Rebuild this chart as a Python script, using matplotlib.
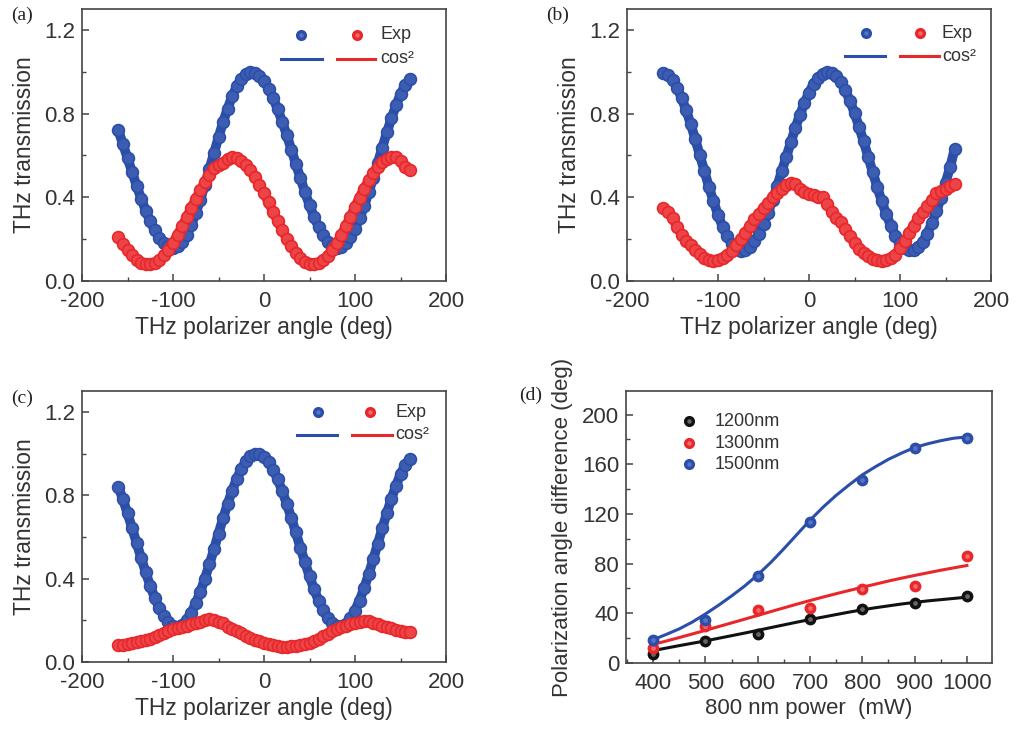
import numpy as np
import matplotlib.pyplot as plt
from matplotlib.ticker import MultipleLocator

plt.rcParams['font.family'] = ['Liberation Sans', 'DejaVu Sans']
plt.rcParams['axes.unicode_minus'] = False

# ---- THz transmission vs polarizer angle (panels a-c) ----
angle = np.arange(-160, 161, 5)

a_blue = [0.720, 0.653, 0.588, 0.521, 0.456, 0.394, 0.336, 0.285, 0.242, 0.207, 0.181, 0.165, 0.160,
          0.167, 0.188, 0.221, 0.267, 0.324, 0.388, 0.459, 0.535, 0.611, 0.686, 0.759, 0.824, 0.882,
          0.930, 0.967, 0.990, 1.000,
          0.996, 0.982, 0.955, 0.920, 0.875, 0.821, 0.762, 0.698, 0.628, 0.560, 0.492, 0.425, 0.363,
          0.306, 0.258, 0.218, 0.188, 0.168, 0.160,
          0.164, 0.181, 0.209, 0.249, 0.299, 0.357, 0.423, 0.493, 0.565, 0.638, 0.710, 0.777, 0.839,
          0.892, 0.936, 0.965]
a_red = [0.210, 0.176, 0.147, 0.122, 0.102, 0.088, 0.081, 0.081, 0.087, 0.102, 0.123, 0.150, 0.183,
         0.220, 0.262, 0.304, 0.348, 0.392, 0.434, 0.473, 0.508, 0.540, 0.556, 0.566, 0.585, 0.595,
         0.586, 0.574, 0.555, 0.529,
         0.497, 0.460, 0.419, 0.376, 0.330, 0.286, 0.243, 0.202, 0.166, 0.135, 0.111, 0.093, 0.083,
         0.080, 0.086, 0.099, 0.121, 0.148, 0.182,
         0.221, 0.263, 0.307, 0.354, 0.399, 0.442, 0.481, 0.515, 0.545, 0.567, 0.582, 0.592, 0.592,
         0.575, 0.545, 0.530]

b_blue = [0.993, 0.986, 0.961, 0.924, 0.875, 0.816, 0.750, 0.678, 0.602, 0.526, 0.451, 0.381, 0.316,
          0.260, 0.213, 0.177, 0.155, 0.145, 0.149, 0.164, 0.190, 0.227, 0.272, 0.327, 0.387, 0.453,
          0.524, 0.593, 0.662, 0.731,
          0.794, 0.851, 0.900, 0.941, 0.972, 0.991, 1.000, 0.996, 0.979, 0.951, 0.911, 0.861, 0.803,
          0.737, 0.667, 0.595, 0.520, 0.449, 0.380,
          0.318, 0.263, 0.216, 0.181, 0.157, 0.146, 0.147, 0.161, 0.188, 0.227, 0.276, 0.333, 0.399,
          0.469, 0.543, 0.630]
b_red = [0.350, 0.330, 0.300, 0.260, 0.220, 0.190, 0.170, 0.150, 0.130, 0.110, 0.100, 0.095, 0.100,
         0.110, 0.125, 0.145, 0.170, 0.200, 0.230, 0.265, 0.295, 0.320, 0.350, 0.375, 0.400, 0.420,
         0.440, 0.460, 0.470, 0.465,
         0.440, 0.425, 0.415, 0.410, 0.400, 0.400, 0.370, 0.330, 0.300, 0.280, 0.250, 0.215, 0.180,
         0.155, 0.135, 0.120, 0.105, 0.100, 0.095,
         0.100, 0.110, 0.125, 0.160, 0.190, 0.230, 0.265, 0.300, 0.330, 0.360, 0.385, 0.420, 0.430,
         0.440, 0.455, 0.465]

c_blue = [0.840, 0.780, 0.714, 0.643, 0.571, 0.499, 0.430, 0.365, 0.307, 0.258, 0.219, 0.190, 0.174,
          0.170, 0.179, 0.202, 0.236, 0.281, 0.336, 0.399, 0.468, 0.540, 0.616, 0.689, 0.758, 0.822,
          0.878, 0.926, 0.963, 0.987,
          0.999, 0.998, 0.984, 0.959, 0.923, 0.876, 0.821, 0.759, 0.691, 0.622, 0.548, 0.479, 0.411,
          0.349, 0.294, 0.248, 0.211, 0.186, 0.172,
          0.171, 0.183, 0.209, 0.247, 0.295, 0.354, 0.420, 0.492, 0.567, 0.641, 0.714, 0.783, 0.846,
          0.900, 0.944, 0.975]
c_red = [0.080, 0.082, 0.085, 0.090, 0.095, 0.100, 0.105, 0.110, 0.120, 0.130, 0.140, 0.150, 0.160,
         0.165, 0.170, 0.175, 0.180, 0.185, 0.190, 0.200, 0.205, 0.200, 0.190, 0.185, 0.170, 0.160,
         0.150, 0.140, 0.125, 0.115,
         0.105, 0.100, 0.090, 0.085, 0.080, 0.075, 0.072, 0.072, 0.075, 0.078, 0.080, 0.085, 0.090,
         0.100, 0.110, 0.125, 0.135, 0.150, 0.160,
         0.170, 0.175, 0.180, 0.185, 0.190, 0.195, 0.195, 0.185, 0.180, 0.175, 0.170, 0.165, 0.155,
         0.150, 0.145, 0.145]

# ---- polarization angle difference vs pump power (panel d) ----
power = [400, 500, 600, 700, 800, 900, 1000]
diff_1200 = [7.5, 18.0, 23.6, 35.7, 43.7, 48.3, 53.9]
diff_1300 = [12.3, 30.0, 42.4, 44.2, 59.5, 61.7, 85.8]
diff_1500 = [18.2, 34.3, 70.0, 113.4, 147.0, 173.2, 181.0]

fit_power = [400, 425, 450, 475, 500, 525, 550, 575, 600, 625, 650, 675, 700,
             725, 750, 775, 800, 825, 850, 875, 900, 925, 950, 975, 1000]
fit_1200 = [10.0, 12.0, 14.0, 15.9, 17.8, 19.9, 22.0, 24.1, 26.3, 28.5, 30.7, 32.9, 35.0,
            37.0, 39.0, 41.0, 42.8, 44.5, 46.0, 47.5, 48.8, 50.0, 51.0, 52.0, 53.0]
fit_1300 = [15.0, 17.7, 20.5, 23.4, 26.3, 29.3, 32.3, 35.3, 38.3, 41.4, 44.4, 47.4, 50.3,
            53.1, 55.8, 58.4, 61.0, 63.5, 66.0, 68.3, 70.5, 72.6, 74.7, 76.6, 78.5]
fit_1500 = [18.8, 23.0, 27.5, 33.0, 39.5, 46.5, 54.0, 62.0, 71.0, 81.0, 92.0, 103.5, 115.0,
            125.5, 135.0, 143.5, 151.5, 158.0, 164.0, 169.0, 173.5, 176.5, 179.0, 181.0, 182.0]

BLUE = '#2b4fa8'
BLUE_L = '#5873c2'
BLUE_M = '#3d5db2'
RED = '#e8272b'
RED_L = '#f06a6c'
RED_M = '#ec4447'
BLACK = '#111111'
BLACK_L = '#666666'
INK = '#333333'

W, H = 1019, 734
fig = plt.figure(figsize=(W / 100, H / 100), dpi=100)


def px_axes(left, top, right, bottom):
    return fig.add_axes([left / W, 1 - bottom / H, (right - left) / W, (bottom - top) / H])


def style(ax):
    for s in ax.spines.values():
        s.set_color('#444444')
        s.set_linewidth(1.2)
    ax.tick_params(which='both', direction='in', top=False, right=False,
                   colors='#444444', labelcolor=INK, labelsize=16, pad=5)
    ax.tick_params(axis='x', which='both', pad=7)
    ax.tick_params(which='major', length=5, width=1.1)
    ax.tick_params(which='minor', length=3, width=1.0)


def glossy(ax, x, y, color, light, size, **kw):
    ax.plot(x, y, 'o', ms=size, mfc=color, mec=color, mew=0, **kw)
    ax.plot(x, y, 'o', ms=size * 0.4, mfc=light, mec=light, mew=0, **kw)


def transmission_panel(ax, blue, red):
    style(ax)
    for vals, col, mcol, z in ((blue, BLUE, BLUE_M, 2), (red, RED, RED_M, 3)):
        ax.plot(angle, vals, '-', color=col, lw=7, solid_capstyle='round', zorder=z)
        ax.plot(angle, vals, 'o', ms=8.5, mfc=mcol, mec=col, mew=1.2, zorder=z + 0.5)
    ax.set_xlim(-200, 200)
    ax.set_ylim(0, 1.3)
    ax.xaxis.set_major_locator(MultipleLocator(100))
    ax.xaxis.set_minor_locator(MultipleLocator(50))
    ax.yaxis.set_major_locator(MultipleLocator(0.4))
    ax.yaxis.set_minor_locator(MultipleLocator(0.2))
    ax.yaxis.set_major_formatter(plt.FuncFormatter(lambda v, p: f'{v:.1f}'))
    ax.set_xlabel('THz polarizer angle (deg)', fontsize=16.5, color=INK, labelpad=3)
    ax.set_ylabel('THz transmission', fontsize=16.5, color=INK, labelpad=6)


def exp_key(ax, bx, rx, tx, y1, y2, bl, rl):
    tr = ax.transAxes
    glossy(ax, [bx], [y1], BLUE, BLUE_L, 8, transform=tr, zorder=6, clip_on=False)
    glossy(ax, [rx], [y1], RED, RED_L, 8, transform=tr, zorder=6, clip_on=False)
    ax.plot(bl, [y2, y2], color=BLUE, lw=2.2, transform=tr, zorder=6)
    ax.plot(rl, [y2, y2], color=RED, lw=2.2, transform=tr, zorder=6)
    ax.text(tx, y1, 'Exp', transform=tr, fontsize=13, color=INK, va='center', ha='left')
    ax.text(tx, y2, 'cos²', transform=tr, fontsize=13, color=INK, va='center', ha='left')


ax_a = px_axes(82, 9, 446, 281)
transmission_panel(ax_a, a_blue, a_red)
exp_key(ax_a, 0.603, 0.755, 0.820, 0.905, 0.818, [0.548, 0.660], [0.700, 0.805])

ax_b = px_axes(627, 9, 991, 281)
transmission_panel(ax_b, b_blue, b_red)
exp_key(ax_b, 0.657, 0.806, 0.865, 0.910, 0.827, [0.600, 0.710], [0.750, 0.858])

ax_c = px_axes(82, 391, 446, 662)
transmission_panel(ax_c, c_blue, c_red)
exp_key(ax_c, 0.647, 0.792, 0.860, 0.922, 0.838, [0.592, 0.700], [0.742, 0.851])

# ---- panel d ----
ax_d = px_axes(626, 391, 992, 663)
style(ax_d)
for fy, col in ((fit_1200, BLACK), (fit_1300, RED), (fit_1500, BLUE)):
    ax_d.plot(fit_power, fy, '-', color=col, lw=2.2, zorder=2)
for dy, col, lcol in ((diff_1200, BLACK, BLACK_L), (diff_1300, RED, RED_L), (diff_1500, BLUE, BLUE_L)):
    glossy(ax_d, power, dy, col, lcol, 8.5, zorder=3)
ax_d.set_xlim(348, 1048)
ax_d.set_ylim(0, 219)
ax_d.xaxis.set_major_locator(MultipleLocator(100))
ax_d.xaxis.set_minor_locator(MultipleLocator(50))
ax_d.yaxis.set_major_locator(MultipleLocator(40))
ax_d.yaxis.set_minor_locator(MultipleLocator(20))
ax_d.set_xlabel('800 nm power  (mW)', fontsize=16, color=INK, labelpad=3)
ax_d.set_ylabel('Polarization angle difference (deg)', fontsize=16, color=INK, labelpad=6)

tr = ax_d.transAxes
for yk, col, lcol, lab in ((0.889, BLACK, BLACK_L, '1200nm'), (0.808, RED, RED_L, '1300nm'),
                           (0.730, BLUE, BLUE_L, '1500nm')):
    glossy(ax_d, [0.172], [yk], col, lcol, 8, transform=tr, zorder=6)
    ax_d.text(0.243, yk, lab, transform=tr, fontsize=13, color=INK, va='center', ha='left')

# panel tags
tag_kw = dict(fontsize=14, color='#222222', family=['Liberation Serif', 'DejaVu Serif'],
              va='center', ha='left')
fig.text(11 / W, 1 - 15 / H, '(a)', **tag_kw)
fig.text(546 / W, 1 - 15 / H, '(b)', **tag_kw)
fig.text(11 / W, 1 - 398 / H, '(c)', **tag_kw)
fig.text(519 / W, 1 - 395 / H, '(d)', **tag_kw)

fig.savefig('out.png', dpi=100)
